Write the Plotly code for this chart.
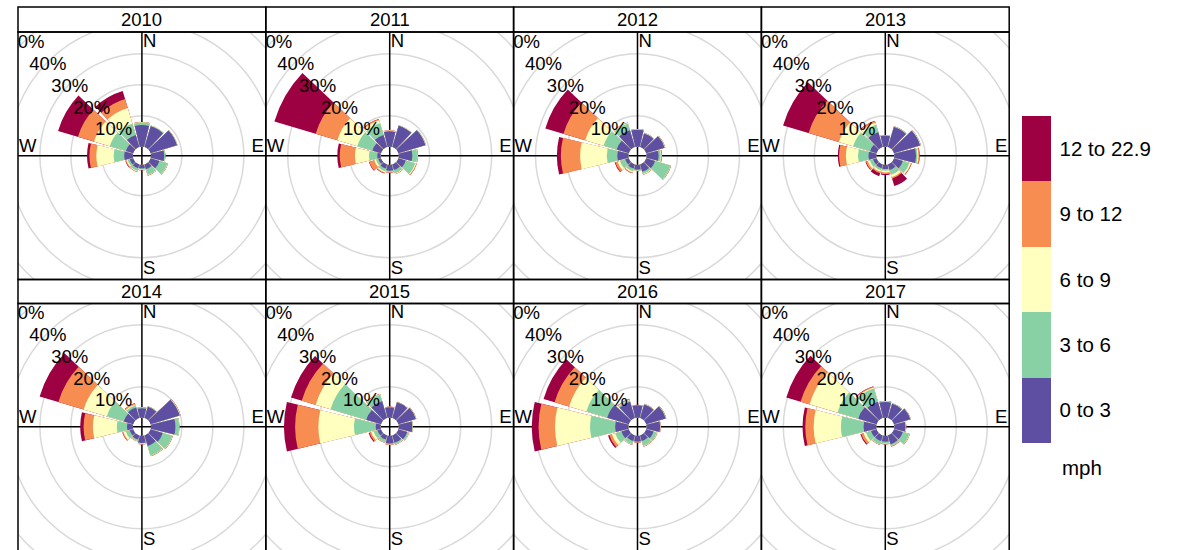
import numpy as np
import plotly.graph_objects as go

# ---------------- data ----------------
years = ["2010", "2011", "2012", "2013", "2014", "2015", "2016", "2017"]
directions = [0, 30, 60, 90, 120, 150, 180, 210, 240, 270, 300, 330]
speed_bins = ["0 to 3", "3 to 6", "6 to 9", "9 to 12", "12 to 22.9"]
bin_colors = ["#5E4FA2", "#88D1A4", "#FFFFBF", "#F88D52", "#9E0142"]
grid_pcts = [10, 20, 30, 40, 50]
grid_labels = ["10%", "20%", "30%", "40%", "50%"]
compass = ["N", "E", "S", "W"]

# cumulative frequency (%) per direction: [0-3, <=6, <=9, <=12, <=22.9]
rose_2010 = [[7.0, 7.8, 7.9, 8.0, 8.0], [7.0, 7.2, 7.3, 7.3, 7.3], [8.9, 9.0, 9.05, 9.1, 9.1],
             [4.3, 4.6, 4.6, 4.7, 4.7], [3.0, 5.7, 5.8, 5.9, 5.9], [1.6, 3.6, 3.7, 3.8, 3.8],
             [1.2, 1.6, 1.7, 1.8, 1.8], [1.3, 2.2, 2.4, 2.6, 2.6], [1.2, 1.9, 2.3, 2.6, 2.7],
             [2.8, 6.2, 11.8, 14.0, 14.8], [2.5, 7.9, 13.2, 18.6, 25.3], [4.1, 7.9, 13.2, 16.2, 18.9]]
rose_2011 = [[5.0, 5.1, 5.2, 5.3, 5.3], [7.2, 7.3, 7.35, 7.4, 7.4], [9.1, 9.2, 9.25, 9.3, 9.3],
             [4.4, 6.0, 6.1, 6.2, 6.2], [2.5, 5.7, 6.0, 6.2, 6.2], [1.9, 3.0, 3.2, 3.3, 3.3],
             [1.9, 2.3, 2.4, 2.6, 2.6], [1.4, 2.3, 2.7, 3.0, 3.1], [0.9, 1.7, 2.3, 4.0, 4.1],
             [1.1, 3.8, 8.3, 13.2, 14.0], [2.9, 8.0, 14.7, 22.0, 35.9], [4.1, 8.0, 9.0, 9.4, 9.5]]
rose_2012 = [[5.5, 5.6, 5.65, 5.7, 5.7], [4.6, 4.7, 4.75, 4.8, 4.8], [6.2, 6.3, 6.4, 6.5, 6.5],
             [3.9, 4.6, 4.8, 5.0, 5.0], [3.0, 8.2, 8.3, 8.4, 8.4], [2.5, 3.2, 3.4, 3.5, 3.5],
             [1.6, 1.9, 2.0, 2.1, 2.1], [1.4, 2.3, 2.7, 3.0, 3.0], [1.2, 3.0, 3.8, 4.6, 4.8],
             [3.6, 7.0, 15.6, 21.8, 23.1], [4.1, 8.5, 14.7, 22.0, 28.1], [5.7, 7.9, 8.1, 8.3, 8.3]]
rose_2013 = [[3.6, 3.7, 3.75, 3.8, 3.8], [6.8, 6.9, 6.95, 7.0, 7.0], [8.8, 8.9, 9.0, 9.1, 9.1],
             [7.0, 7.5, 7.8, 8.1, 8.2], [3.0, 5.2, 5.7, 5.9, 6.0], [1.9, 3.5, 4.3, 4.8, 7.3],
             [1.4, 1.9, 2.5, 3.0, 3.3], [1.3, 2.0, 2.5, 3.0, 4.0], [1.2, 2.3, 3.0, 3.6, 3.8],
             [2.5, 5.9, 9.8, 12.0, 12.4], [2.2, 7.9, 12.7, 22.9, 31.5], [5.0, 7.5, 8.2, 8.8, 8.9]]
rose_2014 = [[3.1, 3.2, 3.3, 3.4, 3.4], [3.8, 3.9, 3.95, 4.0, 4.0], [9.8, 9.9, 10.0, 10.1, 10.1],
             [7.9, 9.1, 9.15, 9.2, 9.2], [4.1, 7.3, 7.4, 7.5, 7.5], [3.6, 6.8, 6.9, 7.0, 7.0],
             [2.3, 2.6, 2.7, 2.8, 2.8], [1.4, 1.9, 2.0, 2.1, 2.1], [1.2, 2.5, 3.3, 3.6, 3.7],
             [1.9, 5.2, 12.9, 15.9, 17.0], [3.2, 8.9, 16.7, 25.2, 31.5], [3.6, 4.3, 4.6, 5.0, 5.1]]
rose_2015 = [[3.4, 3.5, 3.55, 3.6, 3.6], [5.3, 5.4, 5.45, 5.5, 5.5], [5.9, 6.0, 6.05, 6.1, 6.1],
             [4.4, 4.5, 4.55, 4.6, 4.6], [3.0, 3.5, 3.6, 3.7, 3.7], [2.5, 3.0, 3.1, 3.2, 3.2],
             [2.5, 2.7, 2.8, 2.9, 2.9], [1.4, 2.3, 2.4, 2.6, 2.6], [1.2, 2.5, 3.3, 3.9, 4.2],
             [1.6, 8.6, 20.1, 27.6, 31.2], [5.0, 17.0, 22.0, 26.7, 30.3], [5.7, 7.9, 8.0, 8.1, 8.2]]
rose_2016 = [[4.0, 4.1, 4.15, 4.2, 4.2], [4.6, 4.7, 4.75, 4.8, 4.8], [6.6, 6.7, 6.75, 6.8, 6.8],
             [4.4, 4.5, 4.55, 4.6, 4.6], [2.5, 3.6, 3.7, 3.8, 3.8], [1.9, 3.6, 3.7, 3.8, 3.8],
             [1.9, 2.0, 2.1, 2.2, 2.2], [1.9, 3.0, 3.1, 3.2, 3.2], [2.5, 4.6, 5.7, 6.6, 7.0],
             [4.3, 12.4, 23.7, 29.0, 31.2], [7.3, 14.3, 20.1, 25.0, 28.7], [5.5, 6.0, 6.2, 6.4, 6.5]]
rose_2017 = [[5.1, 5.2, 5.3, 5.4, 5.4], [4.8, 4.9, 4.95, 5.0, 5.0], [5.5, 5.6, 5.65, 5.7, 5.7],
             [3.6, 3.7, 3.8, 3.9, 3.9], [3.0, 5.2, 5.3, 5.4, 5.4], [3.0, 3.5, 3.6, 3.8, 3.8],
             [1.9, 2.5, 2.6, 2.8, 2.8], [1.9, 3.0, 3.1, 3.2, 3.2], [1.9, 3.6, 4.4, 5.2, 5.5],
             [4.1, 11.4, 20.2, 22.9, 23.8], [6.2, 13.2, 22.6, 25.6, 30.4], [5.5, 10.0, 10.3, 10.6, 10.7]]
roses = [rose_2010, rose_2011, rose_2012, rose_2013, rose_2014, rose_2015, rose_2016, rose_2017]

# ---------------- layout geometry (pixels) ----------------
W, H = 1181, 550
FONT = "Liberation Sans, Arial, sans-serif"
FS = 18.5
FS_KEY = 20.5
panel_left = 18.0
panel_w = 247.8
row_panel_top = [32.0, 303.5]
row_panel_bot = [279.5, 550.0]
row_border_bot = [279.5, 552.0]
row_strip_top = [7.0, 279.5]
R_px = 123.25          # polar radius in px
hole_px = 9.0          # inner offset
px_per_pct = 3.1       # px per 1 %
rmax = (R_px - hole_px) / px_per_pct


def px2fx(px):
    return px / W


def px2fy(py):
    return 1 - py / H


fig = go.Figure()
shapes = []
layout_extra = {}

for i, (year, rose) in enumerate(zip(years, roses)):
    row, col = divmod(i, 4)
    x0 = panel_left + panel_w * col
    x1 = x0 + panel_w
    pt, pb = row_panel_top[row], row_panel_bot[row]
    cx = x0 + panel_w / 2
    cy = (pt + pb) / 2
    n = i + 1
    ax_sfx = "" if n == 1 else str(n)

    # cartesian underlay (grid circles, cross, labels)
    layout_extra["xaxis" + ax_sfx] = dict(domain=[px2fx(x0), px2fx(x1)], range=[-(cx - x0), x1 - cx],
                                         visible=False, fixedrange=True, anchor="y" + ax_sfx)
    layout_extra["yaxis" + ax_sfx] = dict(domain=[px2fy(pb), px2fy(pt)], range=[-(pb - cy), cy - pt],
                                         visible=False, fixedrange=True, anchor="x" + ax_sfx)
    xr, yr = "x" + ax_sfx, "y" + ax_sfx

    for v in grid_pcts:
        rr = hole_px + px_per_pct * v
        shapes.append(dict(type="circle", xref=xr, yref=yr, x0=-rr, x1=rr, y0=-rr, y1=rr,
                           line=dict(color="#d9d9d9", width=1.5), layer="below"))
    shapes.append(dict(type="line", xref=xr, yref=yr, x0=-200, x1=200, y0=0, y1=0,
                       line=dict(color="black", width=1.5), layer="below"))
    shapes.append(dict(type="line", xref=xr, yref=yr, x0=0, x1=0, y0=-200, y1=200,
                       line=dict(color="black", width=1.5), layer="below"))

    # percentage labels along the NW diagonal (clipped to panel)
    for v, lab in zip(grid_pcts, grid_labels):
        rr = hole_px + px_per_pct * v
        lx, ly = -rr / np.sqrt(2), rr / np.sqrt(2)
        shapes.append(dict(type="rect", xref=xr, yref=yr, x0=lx, x1=lx, y0=ly, y1=ly,
                           line=dict(width=0), layer="above",
                           label=dict(text=lab, font=dict(family=FONT, size=FS, color="black"),
                                      textposition="middle center", padding=0)))

    # compass letters
    fig.add_trace(go.Scatter(
        x=[1, 122, 1, -123], y=[113, 8, -114, 8], mode="text", text=compass,
        textposition=["middle right", "middle left", "middle right", "middle right"],
        textfont=dict(family=FONT, size=FS, color="black"), cliponaxis=False,
        xaxis=xr, yaxis=yr, showlegend=False, hoverinfo="skip"))

    # wind rose bars (cumulative, drawn largest first)
    arr = np.array(rose)
    for k in reversed(range(len(speed_bins))):
        fig.add_trace(go.Barpolar(
            r=arr[:, k], theta=directions, width=27, marker_color=bin_colors[k],
            marker_line_width=0, subplot="polar" + ax_sfx, showlegend=False,
            hoverinfo="skip", name=speed_bins[k]))
    layout_extra["polar" + ax_sfx] = dict(
        domain=dict(x=[px2fx(cx - R_px), px2fx(cx + R_px)], y=[px2fy(cy + R_px), px2fy(cy - R_px)]),
        hole=hole_px / R_px, bgcolor="rgba(0,0,0,0)", barmode="overlay",
        radialaxis=dict(range=[0, rmax], visible=False),
        angularaxis=dict(rotation=90, direction="clockwise", visible=False))

    # panel border and strip
    st = row_strip_top[row]
    shapes.append(dict(type="rect", xref="paper", yref="paper", x0=px2fx(x0), x1=px2fx(x1),
                       y0=px2fy(row_border_bot[row]), y1=px2fy(pt),
                       line=dict(color="black", width=1.5), layer="above"))
    shapes.append(dict(type="rect", xref="paper", yref="paper", x0=px2fx(x0), x1=px2fx(x1),
                       y0=px2fy(pt), y1=px2fy(st), line=dict(color="black", width=1.5),
                       layer="above"))
    fig.add_annotation(x=px2fx(cx), y=px2fy((st + pt) / 2), xref="paper", yref="paper",
                       text=year, showarrow=False, font=dict(family=FONT, size=FS, color="black"),
                       xanchor="center", yanchor="middle")

# colour key (discrete colorbar)
cs = []
nb = len(bin_colors)
for k, c in enumerate(bin_colors):
    cs.append([k / nb, c])
    cs.append([(k + 1) / nb, c])
cbar = dict(thickness=29, thicknessmode="pixels", len=327, lenmode="pixels",
            x=px2fx(1022), xanchor="left", xpad=0, y=px2fy(279.5), yanchor="middle",
            ypad=0, outlinewidth=0, tickvals=[k + 0.5 for k in range(nb)],
            ticktext=speed_bins, ticks="outside", ticklen=5, tickcolor="white",
            tickfont=dict(family=FONT, size=FS_KEY, color="black"))
fig.add_trace(go.Scatter(
    x=[1e6], y=[1e6], mode="markers", xaxis="x", yaxis="y", showlegend=False, hoverinfo="skip",
    marker=dict(color=[0], cmin=0, cmax=nb, colorscale=cs, showscale=True, colorbar=cbar)))
fig.add_annotation(x=px2fx(1060), y=px2fy(467), xref="paper", yref="paper", text="mph",
                   showarrow=False, xanchor="left", yanchor="middle",
                   font=dict(family=FONT, size=FS_KEY, color="black"))

fig.update_layout(width=W, height=H, margin=dict(l=0, r=0, t=0, b=0),
                  paper_bgcolor="white", plot_bgcolor="rgba(0,0,0,0)",
                  shapes=shapes, **layout_extra)
fig.write_html("out.html", config={"displayModeBar": False},
               post_script="document.body.style.margin='0px';document.body.style.overflow='hidden';")
